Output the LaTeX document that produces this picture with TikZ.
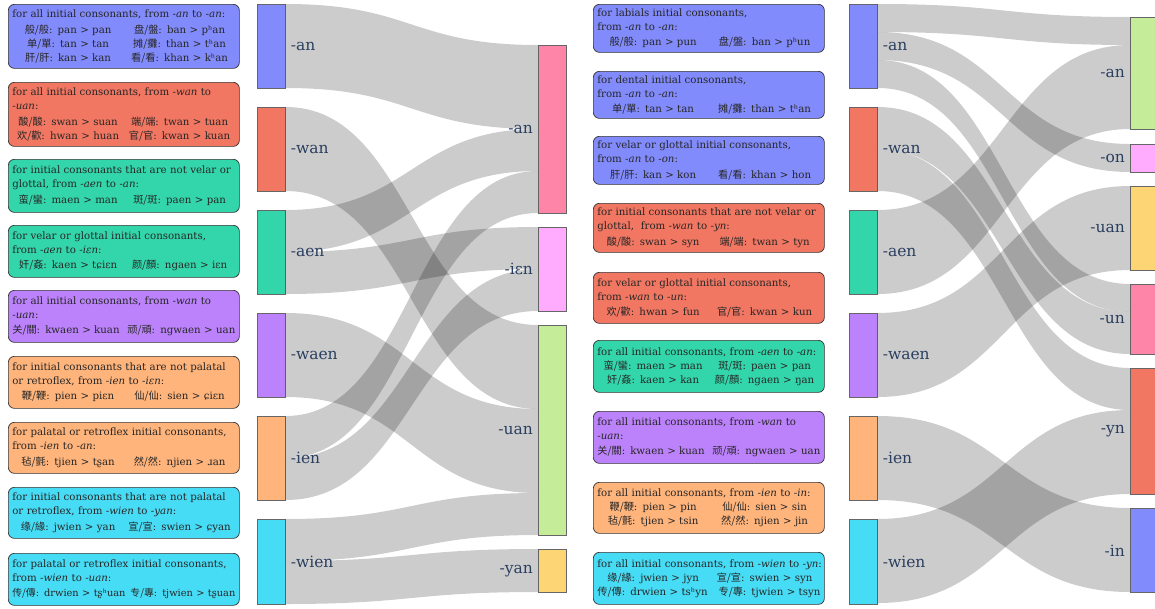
\documentclass[tikz,border=0pt]{standalone}
\usepackage{fontspec}
\setmainfont{DejaVu Serif}
\newfontfamily\cjkfont{Noto Sans CJK SC}
\usetikzlibrary{calc}

\newcommand\zh[1]{{\cjkfont #1}}
\newlength\halfcol
\setlength\halfcol{111.5pt}
% two examples, each centred in one half of the note
\newcommand\ex[2]{\makebox[\halfcol][c]{#1}\makebox[\halfcol][c]{#2}}
% two long examples pushed to the two edges of the note
\newcommand\exx[2]{\makebox[2\halfcol][s]{#1\hfill#2}}

\definecolor{cBlue}{HTML}{828BFB}
\definecolor{cRed}{HTML}{F27762}
\definecolor{cGreen}{HTML}{33D6AB}
\definecolor{cPurple}{HTML}{BC82FB}
\definecolor{cOrange}{HTML}{FFB47B}
\definecolor{cCyan}{HTML}{47DCF5}
\definecolor{cPink}{HTML}{FF85A8}
\definecolor{cMagenta}{HTML}{FFACFF}
\definecolor{cLime}{HTML}{C5ED99}
\definecolor{cYellow}{HTML}{FED575}
\definecolor{lbl}{HTML}{2A3F5F}

\tikzset{
  note/.style={draw=black!80, line width=0.7pt, rounded corners=6pt,
    anchor=north west, minimum width=231pt, text width=223pt,
    inner xsep=4pt, inner ysep=2pt, align=left,
    font=\fontsize{10.2}{14}\selectfont, text=black!85},
  snode/.style={draw=black!60, line width=0.6pt, anchor=north west,
    minimum width=28pt, inner sep=0pt},
  slabel/.style={font=\fontsize{15.5}{18}\selectfont, text=lbl, inner sep=0pt},
  flow/.style={fill=black, fill opacity=0.2}
}

% band from node #1 (offset #2 below its top) to node #3 (offset #4), thickness #5
\newcommand\lnk[5]{%
  \fill[flow] let \p1=($(#1.north east)+(0,#2)$),
                  \p2=($(#3.north west)+(0,#4)$),
                  \p3=($(#3.north west)+(0,#4+#5)$),
                  \p4=($(#1.north east)+(0,#2+#5)$),
                  \p5=($(\p1)!.5!(\p2)$) in
    (\p1) .. controls (\x5,\y1) and (\x5,\y2) .. (\p2)
    -- (\p3) .. controls (\x5,\y3) and (\x5,\y4) .. (\p4) -- cycle;}

\begin{document}
\begin{tikzpicture}[x=1pt,y=-1pt]
\useasboundingbox (0,0) rectangle (1155,608);
\fill[white] (0,0) rectangle (1155,608);

% ---------- left notes ----------
\node[note, fill=cBlue, minimum height=64pt] (n1) at (8,4) {for all initial consonants, from \textit{-an} to \textit{-an}:\\[1.5pt]
\ex{\zh{般/般}: pan > pan}{\zh{盘/盤}: ban > pʰan}\\
\ex{\zh{单/單}: tan > tan}{\zh{摊/攤}: than > tʰan}\\
\ex{\zh{肝/肝}: kan > kan}{\zh{看/看}: khan > kʰan}};
\node[note, fill=cRed, minimum height=64pt] (n2) at (8,82) {for all initial consonants, from \textit{-wan} to\\\textit{-uan}:\\[1.5pt]
\ex{\zh{酸/酸}: swan > suan}{\zh{端/端}: twan > tuan}\\
\ex{\zh{欢/歡}: hwan > huan}{\zh{官/官}: kwan > kuan}};
\node[note, fill=cGreen, minimum height=53pt] (n3) at (8,159) {for initial consonants that are not velar or\\glottal, from \textit{-aen} to \textit{-an}:\\[1.5pt]
\ex{\zh{蛮/蠻}: maen > man}{\zh{斑/斑}: paen > pan}};
\node[note, fill=cGreen, minimum height=52pt] (n4) at (8,225) {for velar or glottal initial consonants,\\from \textit{-aen} to \textit{-iɛn}:\\[1.5pt]
\ex{\zh{奸/姦}: kaen > tɕiɛn}{\zh{颜/顏}: ngaen > iɛn}};
\node[note, fill=cPurple, minimum height=52pt] (n5) at (8,290) {for all initial consonants, from \textit{-wan} to\\\textit{-uan}:\\[1.5pt]
\exx{\zh{关/關}: kwaen > kuan}{\zh{顽/頑}: ngwaen > uan}};
\node[note, fill=cOrange, minimum height=52pt] (n6) at (8,356) {for initial consonants that are not palatal\\or retroflex, from \textit{-ien} to \textit{-iɛn}:\\[1.5pt]
\ex{\zh{鞭/鞭}: pien > piɛn}{\zh{仙/仙}: sien > ɕiɛn}};
\node[note, fill=cOrange, minimum height=51pt] (n7) at (8,422) {for palatal or retroflex initial consonants,\\from \textit{-ien} to \textit{-an}:\\[1.5pt]
\ex{\zh{毡/氈}: tjien > tʂan}{\zh{然/然}: njien > ɹan}};
\node[note, fill=cCyan, minimum height=51pt] (n8) at (8,487) {for initial consonants that are not palatal\\or retroflex, from \textit{-wien} to \textit{-yan}:\\[1.5pt]
\ex{\zh{缘/緣}: jwien > yan}{\zh{宣/宣}: swien > ɕyan}};
\node[note, fill=cCyan, minimum height=52pt] (n9) at (8,553) {for palatal or retroflex initial consonants,\\from \textit{-wien} to \textit{-uan}:\\[1.5pt]
{\fontsize{9.8}{14}\selectfont\exx{\zh{传/傳}: drwien > tʂʰuan}{\zh{专/專}: tjwien > tʂuan}}};

% ---------- right notes ----------
\node[note, fill=cBlue, minimum height=48pt] (m1) at (593,4) {for labials initial consonants,\\from \textit{-an} to \textit{-an}:\\[1.5pt]
\ex{\zh{般/般}: pan > pun}{\zh{盘/盤}: ban > pʰun}};
\node[note, fill=cBlue, minimum height=47pt] (m2) at (593,71) {for dental initial consonants,\\from \textit{-an} to \textit{-an}:\\[1.5pt]
\ex{\zh{单/單}: tan > tan}{\zh{摊/攤}: than > tʰan}};
\node[note, fill=cBlue, minimum height=48pt] (m3) at (593,136) {for velar or glottal initial consonants,\\from \textit{-an} to \textit{-on}:\\[1.5pt]
\ex{\zh{肝/肝}: kan > kon}{\zh{看/看}: khan > hon}};
\node[note, fill=cRed, minimum height=49pt] (m4) at (593,203) {for initial consonants that are not velar or\\glottal,\ \ from \textit{-wan} to \textit{-yn}:\\[1.5pt]
\ex{\zh{酸/酸}: swan > syn}{\zh{端/端}: twan > tyn}};
\node[note, fill=cRed, minimum height=51pt] (m5) at (593,272) {for velar or glottal initial consonants,\\from \textit{-wan} to \textit{-un}:\\[1.5pt]
\ex{\zh{欢/歡}: hwan > fun}{\zh{官/官}: kwan > kun}};
\node[note, fill=cGreen, minimum height=52pt] (m6) at (593,340) {\mbox{for all initial consonants, from \textit{-aen} to \textit{-an}:}\\
\ex{\zh{蛮/蠻}: maen > man}{\zh{斑/斑}: paen > pan}\\
\ex{\zh{奸/姦}: kaen > kan}{\zh{颜/顏}: ngaen > ŋan}};
\node[note, fill=cPurple, minimum height=52pt] (m7) at (593,411) {for all initial consonants, from \textit{-wan} to\\\textit{-uan}:\\[1.5pt]
\exx{\zh{关/關}: kwaen > kuan}{\zh{顽/頑}: ngwaen > uan}};
\node[note, fill=cOrange, minimum height=51pt] (m8) at (593,482) {\mbox{for all initial consonants, from \textit{-ien} to \textit{-in}:}\\
\ex{\zh{鞭/鞭}: pien > pin}{\zh{仙/仙}: sien > sin}\\
\ex{\zh{毡/氈}: tjien > tsin}{\zh{然/然}: njien > jin}};
\node[note, fill=cCyan, minimum height=52pt] (m9) at (593,552) {\mbox{for all initial consonants, from \textit{-wien} to \textit{-yn}:}\\
\ex{\zh{缘/緣}: jwien > jyn}{\zh{宣/宣}: swien > syn}\\
\exx{\zh{传/傳}: drwien > tsʰyn}{\zh{专/專}: tjwien > tsyn}};

% ---------- left sankey: nodes ----------
\node[snode, fill=cBlue,   minimum height=84pt] (La)  at (257,4)   {};
\node[snode, fill=cRed,    minimum height=84pt] (Lw)  at (257,107) {};
\node[snode, fill=cGreen,  minimum height=84pt] (Lae) at (257,210) {};
\node[snode, fill=cPurple, minimum height=84pt] (Lwa) at (257,313) {};
\node[snode, fill=cOrange, minimum height=84pt] (Li)  at (257,416) {};
\node[snode, fill=cCyan,   minimum height=85pt] (Lwi) at (257,519) {};

\node[snode, fill=cPink,    minimum height=168pt] (Ta)  at (538,45)  {};
\node[snode, fill=cMagenta, minimum height=84pt]  (Ti)  at (538,227) {};
\node[snode, fill=cLime,    minimum height=210pt] (Tu)  at (538,325) {};
\node[snode, fill=cYellow,  minimum height=43pt]  (Ty)  at (538,549) {};

% ---------- left sankey: bands ----------
\lnk{La}{0}{Ta}{0}{84}
\lnk{Lae}{0}{Ta}{84}{42}
\lnk{Li}{0}{Ta}{126}{42}
\lnk{Lae}{42}{Ti}{0}{42}
\lnk{Li}{42}{Ti}{42}{42}
\lnk{Lw}{0}{Tu}{0}{84}
\lnk{Lwa}{0}{Tu}{84}{84}
\lnk{Lwi}{0}{Tu}{168}{42}
\lnk{Lwi}{42}{Ty}{0}{43}

% ---------- left sankey: labels ----------
\node[slabel, anchor=west] (La-t)  at ($(La.east)+(5,0)$)  {-an};
\node[slabel, anchor=west] (Lw-t)  at ($(Lw.east)+(5,0)$)  {-wan};
\node[slabel, anchor=west] (Lae-t) at ($(Lae.east)+(5,0)$) {-aen};
\node[slabel, anchor=west] (Lwa-t) at ($(Lwa.east)+(5,0)$) {-waen};
\node[slabel, anchor=west] (Li-t)  at ($(Li.east)+(5,0)$)  {-ien};
\node[slabel, anchor=west] (Lwi-t) at ($(Lwi.east)+(5,0)$) {-wien};
\node[slabel, anchor=east] (Ta-t)  at ($(Ta.west)+(-5,0)$) {-an};
\node[slabel, anchor=east] (Ti-t)  at ($(Ti.west)+(-5,0)$) {-iɛn};
\node[slabel, anchor=east] (Tu-t)  at ($(Tu.west)+(-5,0)$) {-uan};
\node[slabel, anchor=east] (Ty-t)  at ($(Ty.west)+(-5,0)$) {-yan};

% ---------- right sankey: nodes ----------
\node[snode, fill=cBlue,   minimum height=84pt] (Ra)  at (849,4)   {};
\node[snode, fill=cRed,    minimum height=84pt] (Rw)  at (849,107) {};
\node[snode, fill=cGreen,  minimum height=84pt] (Rae) at (849,210) {};
\node[snode, fill=cPurple, minimum height=84pt] (Rwa) at (849,313) {};
\node[snode, fill=cOrange, minimum height=84pt] (Ri)  at (849,416) {};
\node[snode, fill=cCyan,   minimum height=85pt] (Rwi) at (849,519) {};

\node[snode, fill=cLime,    minimum height=112pt] (Sa)  at (1130,17)  {};
\node[snode, fill=cMagenta, minimum height=28pt]  (So)  at (1130,144) {};
\node[snode, fill=cYellow,  minimum height=84pt]  (Su)  at (1130,186) {};
\node[snode, fill=cPink,    minimum height=70pt]  (Sun) at (1130,284) {};
\node[snode, fill=cRed,     minimum height=126pt] (Sy)  at (1130,368) {};
\node[snode, fill=cBlue,    minimum height=84pt]  (Si)  at (1130,508) {};

% ---------- right sankey: bands ----------
\lnk{Ra}{0}{Sa}{0}{28}
\lnk{Ra}{28}{So}{0}{28}
\lnk{Ra}{56}{Sun}{0}{28}
\lnk{Rae}{0}{Sa}{28}{84}
\lnk{Rw}{0}{Sun}{28}{42}
\lnk{Rw}{42}{Sy}{0}{42}
\lnk{Rwa}{0}{Su}{0}{84}
\lnk{Ri}{0}{Si}{0}{84}
\lnk{Rwi}{0}{Sy}{42}{84}

% ---------- right sankey: labels ----------
\node[slabel, anchor=west] (Ra-t)  at ($(Ra.east)+(5,0)$)  {-an};
\node[slabel, anchor=west] (Rw-t)  at ($(Rw.east)+(5,0)$)  {-wan};
\node[slabel, anchor=west] (Rae-t) at ($(Rae.east)+(5,0)$) {-aen};
\node[slabel, anchor=west] (Rwa-t) at ($(Rwa.east)+(5,0)$) {-waen};
\node[slabel, anchor=west] (Ri-t)  at ($(Ri.east)+(5,0)$)  {-ien};
\node[slabel, anchor=west] (Rwi-t) at ($(Rwi.east)+(5,0)$) {-wien};
\node[slabel, anchor=east] (Sa-t)  at ($(Sa.west)+(-5,0)$)  {-an};
\node[slabel, anchor=east] (So-t)  at ($(So.west)+(-5,0)$)  {-on};
\node[slabel, anchor=east] (Su-t)  at ($(Su.west)+(-5,0)$)  {-uan};
\node[slabel, anchor=east] (Sun-t) at ($(Sun.west)+(-5,0)$) {-un};
\node[slabel, anchor=east] (Sy-t)  at ($(Sy.west)+(-5,0)$)  {-yn};
\node[slabel, anchor=east] (Si-t)  at ($(Si.west)+(-5,0)$)  {-in};
\end{tikzpicture}
\end{document}
